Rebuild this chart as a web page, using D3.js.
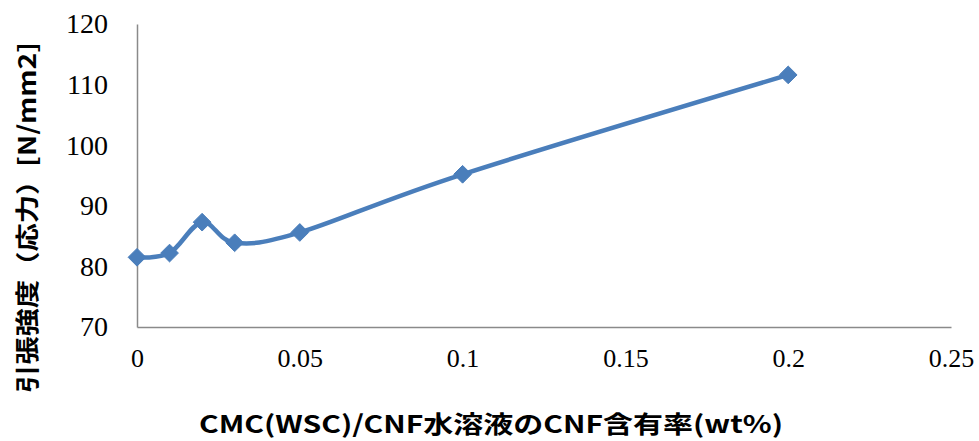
<!DOCTYPE html>
<html>
<head>
<meta charset="utf-8">
<script src="https://cdn.jsdelivr.net/npm/d3@7"></script>
<style>
  html, body { margin: 0; padding: 0; background: #fff; }
  svg { display: block; }
</style>
</head>
<body>
<svg id="chart" width="979" height="441"></svg>
<script>
// CNF content (wt%) and measured tensile strength (N/mm2)
const cnfContent = [0, 0.01, 0.02, 0.03, 0.05, 0.1, 0.2];
const tensileStrength = [81.5, 82.2, 87.3, 83.9, 85.6, 95.2, 111.6];
const xTicks = [0, 0.05, 0.1, 0.15, 0.2, 0.25];
const yTicks = [70, 80, 90, 100, 110, 120];
const xTitle = "CMC(WSC)/CNF水溶液のCNF含有率(wt%)";
const yTitle = "引張強度（応力）[N/mm2]";

const svg = d3.select("#chart");
const plotLeft = 137, plotRight = 951, plotTop = 24, plotBottom = 327;

const x = d3.scaleLinear().domain([0, 0.25]).range([plotLeft, plotRight]);
const y = d3.scaleLinear().domain([70, 120]).range([plotBottom, plotTop]);

const axisColor = "#8a8a8a";
const lineColor = "#4a7ebb";

// Axes (no tick marks, only labels)
const xAxis = d3.axisBottom(x).tickValues(xTicks).tickSize(0).tickPadding(22)
  .tickFormat(d => String(d));
const yAxis = d3.axisLeft(y).tickValues(yTicks).tickSize(0).tickPadding(29)
  .tickFormat(d => String(d));

const gx = svg.append("g").attr("transform", `translate(0,${plotBottom})`).call(xAxis);
gx.select(".domain").attr("stroke", axisColor).attr("stroke-width", 1.5);
gx.selectAll("text").attr("font-family", "'Liberation Serif', serif")
  .attr("font-size", 26).attr("fill", "#000");

const gy = svg.append("g").attr("transform", `translate(${plotLeft},0)`).call(yAxis);
gy.select(".domain").attr("stroke", axisColor).attr("stroke-width", 1.5);
gy.selectAll("text").attr("font-family", "'Liberation Serif', serif")
  .attr("font-size", 28).attr("fill", "#000");

// Smoothed series line
const pts = cnfContent.map((c, i) => [c, tensileStrength[i]]);
const line = d3.line().x(d => x(d[0])).y(d => y(d[1])).curve(d3.curveCardinal.tension(0));
svg.append("path").datum(pts).attr("d", line)
  .attr("fill", "none").attr("stroke", lineColor).attr("stroke-width", 4.5)
  .attr("stroke-linejoin", "round");

// Diamond markers
const diamond = d3.symbol().type(d3.symbolDiamond2).size(200);
svg.append("g").selectAll("path").data(pts).join("path")
  .attr("transform", d => `translate(${x(d[0])},${y(d[1])})`)
  .attr("d", diamond)
  .attr("fill", lineColor).attr("stroke", lineColor).attr("stroke-width", 1);

// Axis titles
svg.append("text")
  .attr("x", 199).attr("y", 433)
  .attr("font-family", "'Noto Sans CJK JP', sans-serif")
  .attr("font-weight", "bold").attr("font-size", 24)
  .attr("textLength", 584).attr("lengthAdjust", "spacingAndGlyphs")
  .attr("fill", "#000")
  .text(xTitle);

svg.append("text")
  .attr("transform", "translate(36,393) rotate(-90)")
  .attr("x", 0).attr("y", 0)
  .attr("font-family", "'Noto Sans CJK JP', sans-serif")
  .attr("font-weight", "bold").attr("font-size", 24)
  .attr("textLength", 351).attr("lengthAdjust", "spacingAndGlyphs")
  .attr("fill", "#000")
  .text(yTitle);
</script>
</body>
</html>
